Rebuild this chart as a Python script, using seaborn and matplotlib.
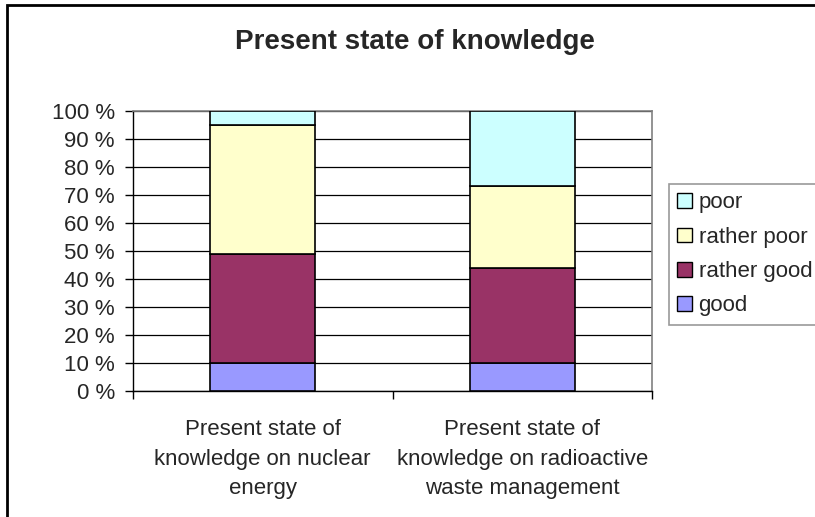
import matplotlib
matplotlib.use("Agg")
import matplotlib.pyplot as plt
import seaborn as sns
import pandas as pd
import numpy as np
from matplotlib.patches import Rectangle, Patch

categories = ["Present state of\nknowledge on nuclear\nenergy",
              "Present state of\nknowledge on radioactive\nwaste management"]
series_names = ["good", "rather good", "rather poor", "poor"]
good = [10, 10]
rather_good = [39, 34]
rather_poor = [46, 29]
poor = [5, 27]
colors = {"good": "#9999FF", "rather good": "#993366",
          "rather poor": "#FFFFCC", "poor": "#CCFFFF"}
yticks = list(range(0, 101, 10))

sns.set_theme(style="white")
plt.rcParams['font.family'] = ['Liberation Sans', 'DejaVu Sans']

fig = plt.figure(figsize=(8.15, 5.17), dpi=100)
ax = fig.add_axes([133/815, 1-391/517, (652-133)/815, (391-110.7)/517])

values = {"good": good, "rather good": rather_good,
          "rather poor": rather_poor, "poor": poor}
bottom = np.zeros(len(categories))
for name in series_names:
    df = pd.DataFrame({"cat": categories, "val": values[name]})
    sns.barplot(data=df, x="cat", y="val", ax=ax, color=colors[name],
                bottom=bottom, width=0.405, edgecolor="black", linewidth=1.2,
                saturation=1, zorder=3)
    bottom = bottom + np.array(values[name])

ax.set_ylim(0, 100)
ax.set_xlim(-0.5, 1.5)
ax.set_yticks(yticks)
ax.set_yticklabels([f"{t} %" for t in yticks], fontsize=16)
ax.yaxis.grid(True, color="black", linewidth=0.9, zorder=0)
ax.set_axisbelow(True)
ax.set_xlabel("")
ax.set_ylabel("")
ax.tick_params(axis="y", which="major", direction="out", length=6, width=1,
               color="black", left=True, pad=7)
ax.tick_params(axis="x", which="major", length=0, labelsize=16, pad=20)
ax.set_xticks([-0.5, 0.5, 1.5], minor=True)
ax.tick_params(axis="x", which="minor", direction="out", length=6, width=1,
               color="black", bottom=True)
for lab in ax.get_xticklabels():
    lab.set_linespacing(1.55)
for s in ["left", "bottom"]:
    ax.spines[s].set_color("black")
    ax.spines[s].set_linewidth(1)
for s in ["top", "right"]:
    ax.spines[s].set_color("#808080")
    ax.spines[s].set_linewidth(1.2)

fig.text(415/815, 1-42/517, "Present state of knowledge", ha="center",
         va="center", fontsize=20, fontweight="bold")

handles = [Patch(facecolor=colors[n], edgecolor="black", label=n)
           for n in reversed(series_names)]
leg = fig.legend(handles=handles, loc="upper left",
                 bbox_to_anchor=(669/815, 1-184/517), frameon=True,
                 fontsize=16, fancybox=False, handlelength=0.65,
                 handleheight=0.65, handletextpad=0.3, labelspacing=0.6,
                 borderpad=0.38, borderaxespad=0)
leg.get_frame().set_edgecolor("#808080")
leg.get_frame().set_linewidth(1.2)

fig.patches.append(Rectangle((7/815, -0.1), 1.2, 1 - 5/517 + 0.1,
                             transform=fig.transFigure, fill=False,
                             edgecolor="black", linewidth=2))

fig.savefig("out.png", dpi=100)
